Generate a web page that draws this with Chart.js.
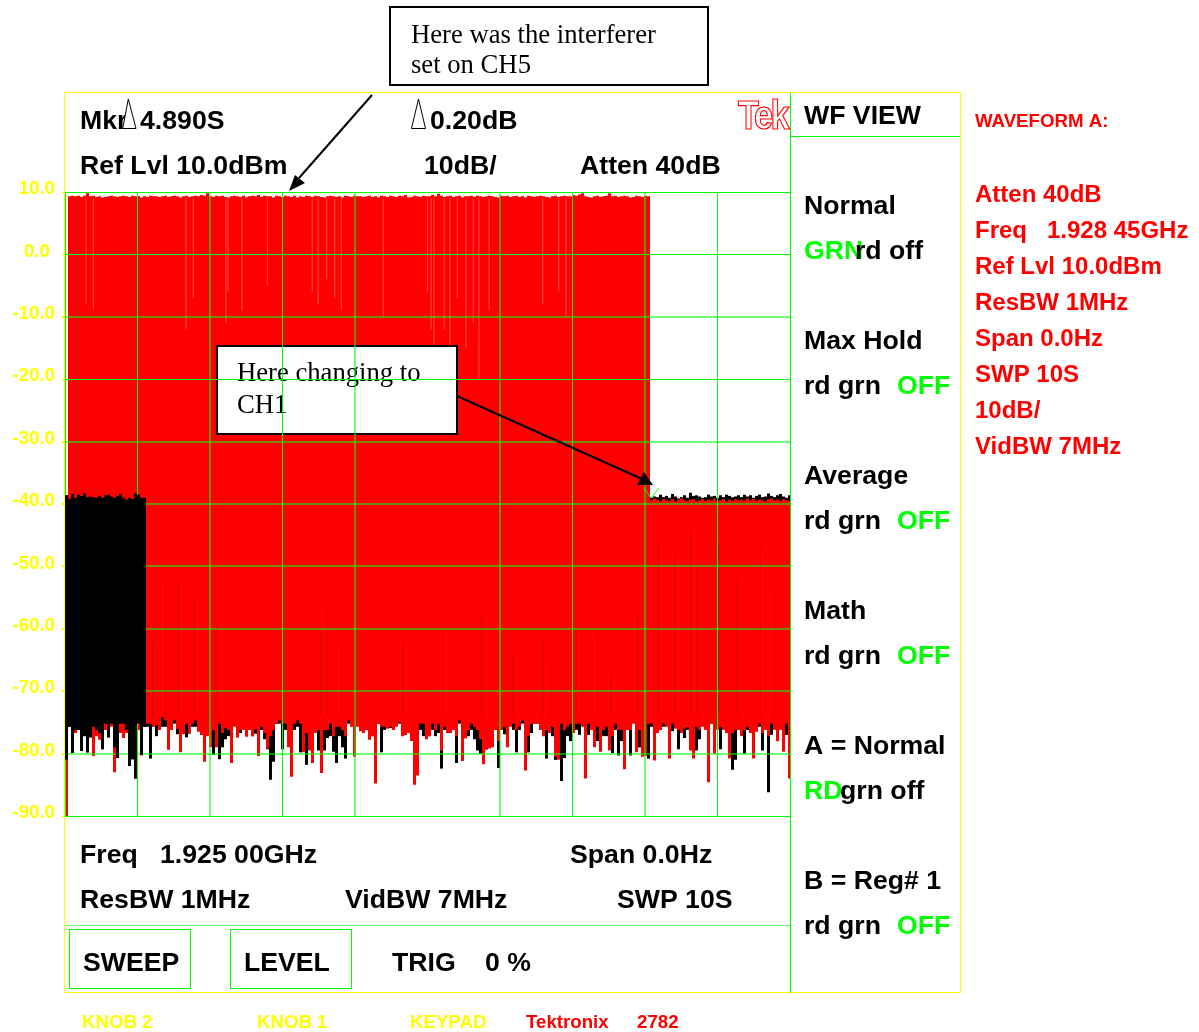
<!DOCTYPE html>
<html><head><meta charset="utf-8"><style>html,body{margin:0;padding:0;background:#fff}canvas{display:block}</style>
<script src="https://cdn.jsdelivr.net/npm/chart.js@4/dist/chart.umd.min.js"></script></head>
<body><canvas id="c" width="1199" height="1032"></canvas>
<script>
// Trace columns, one per small slice of the 10 s sweep (values in dBm)
const redLow=[-90,-75.5,-76,-77.5,-76,-76.5,-76.5,-77,-76.5,-80.4,
-78,-78.6,-77,-77,-76,-76.5,-83,-77.5,-77.5,-78.3,
-77.5,-76,-76.5,-76.5,-77,-80.3,-75,-76,-76,-76.5,
-76.2,-77,-75,-75.5,-79.4,-77,-75.5,-76.8,-79.8,-77.7,
-76,-77.5,-76,-75.5,-77.3,-77.8,-81.3,-78,-79,-77,
-79,-76,-77.5,-76.7,-77,-81.5,-76.5,-78.2,-77,-77,
-78.1,-77,-78,-76.9,-80.4,-76.5,-77.5,-79.2,-78,-77,
-76,-75.5,-76,-76,-79,-83.7,-76,-75.5,-76,-79.8,
-77.5,-79.5,-81.5,-77.5,-77,-83.1,-77,-77,-76,-78,
-76.5,-76.5,-77,-78,-75.5,-76.5,-80.5,-76.5,-77.2,-77.5,
-77,-78.6,-78,-84.8,-76,-76.5,-76.5,-76.8,-76.5,-77,
-76.5,-75.8,-78,-77.8,-77.5,-78.8,-85,-83.5,-76,-76,
-78.5,-78,-76,-77,-76,-79.5,-76.5,-77.5,-77.5,-77,
-78,-75.5,-81.2,-78.4,-77,-76,-76.5,-77,-78.5,-81.7,
-79.4,-79.2,-79,-77,-78.8,-77,-76.5,-79,-76.5,-76,
-77,-76.5,-75.5,-82.7,-78,-76,-76,-76,-77,-78,
-77,-77.5,-76.5,-80.5,-81,-76,-77,-76.5,-76,-77.5,
-76,-76,-76.5,-84,-76,-77,-79,-76.5,-79.7,-77,
-76.5,-79.5,-78,-76,-77,-77,-82.5,-77,-77,-76,
-79.8,-77,-80.5,-80.4,-76,-76,-81.1,-77.5,-77,-76,
-76.5,-80.8,-76,-76.8,-77,-77.5,-76.8,-76.6,-79.5,-80.8,
-76.5,-77,-76.5,-77,-84.6,-76,-80,-77,-76.5,-77,
-77.5,-80.8,-77.5,-77,-77,-78,-77,-76.5,-77.5,-80.8,
-77.3,-76,-77.5,-77,-78,-76,-77,-78.8,-77,-79.7,
-76,-84];
const blackLow=[-81,-76.5,-79.9,-77,-77,-79.6,-78,-79.8,-78.2,-76.5,
-77,-77.5,-79.3,-76,-78.2,-76,-79,-80.7,-76,-76,
-77,-82,-80.9,-84,-76,-80.2,-76.5,-76.5,-80.8,-76.5,
-78,-77,-76.5,-76.5,-79.3,-76,-76,-77.7,-77,-77,
-78.2,-77.6,-76.5,-76.5,-77,-77.5,-80.5,-77,-77,-80.2,
-78,-80.9,-79,-78.5,-78,-81.5,-76,-76.7,-77.5,-77,
-76.7,-77,-78,-77.6,-77.5,-77,-78.5,-79.3,-84.2,-81.3,
-76,-76,-79.3,-77,-78,-78,-77,-76.5,-79.8,-77,
-81.8,-76.8,-77,-77,-79.5,-79,-79.5,-78.3,-78,-79.7,
-81.5,-78,-79,-80.8,-76,-76,-80,-75.5,-76.5,-76.7,
-77,-78.5,-78,-77.5,-76,-79.8,-77,-76.5,-76.7,-76.5,
-76,-76,-77.8,-76.5,-77.5,-78.5,-79,-77,-77,-78,
-77,-78,-77,-78,-77.5,-82.4,-77,-76.5,-77,-77,
-81.5,-76,-77,-76,-78,-77,-78.5,-79.5,-80,-81.5,
-76.5,-77,-76,-77,-82.3,-76.5,-77.7,-77,-76,-77,
-79.8,-77,-76,-78,-79.8,-77.5,-76,-76,-76.5,-77,
-80.8,-77.5,-78,-81,-77,-84.4,-80.7,-78,-78.8,-76.5,
-77,-77.8,-76,-78,-77.8,-76.5,-76,-78.8,-77,-78,
-78,-77,-79.9,-77,-80.3,-78.8,-77,-77,-80.3,-75,
-77.5,-79,-76.5,-78,-80.8,-76.5,-77,-76.5,-77,-76.5,
-76,-77,-77.2,-76,-79.3,-76.5,-78.3,-77,-77,-78,
-79.5,-78.5,-76,-76.5,-77,-76,-77,-76.7,-79.3,-76.5,
-77,-77,-82.6,-81,-77,-76.5,-80,-77,-76.5,-77,
-76,-76.5,-79.5,-76.5,-86.2,-77.8,-76.5,-77,-76.5,-76.5,
-77.8,-77];
const redTop=[-76,
9.3,9.4,9.3,9.4,9.2,9.4,9.8,9.3,9.4,9.2,
9.3,9.1,9.2,9.3,9.4,9.3,9.2,9.3,9.4,9.3,
9.2,9.4,9.3,9.3,9.1,9.3,9.2,9.4,9.3,9.3,
9.2,9.3,9.4,9.2,9.3,9.4,9.3,9.1,9.3,9.4,
9.2,9.3,9.4,9.3,9.5,9.4,9.8,9.3,9.2,9.4,
9.3,9.4,9.2,9.1,9.3,9.4,9.3,9.2,9.4,9.1,
9.3,9.4,9.3,9.5,9.2,9.4,9.3,9.3,9.1,9.4,
9.3,9.2,9.4,9.3,9.2,9.4,9.1,9.3,9.2,9.4,
9.3,9.2,9.4,9.3,9.2,9.1,9.3,9.4,9.3,9.2,
9.3,9.1,9.4,9.3,9.2,9.4,9.3,9.3,9.2,9.3,
9.4,9.2,9.3,9.1,9.4,9.3,9.2,9.4,9.3,9.2,
9.4,9.3,9.5,9.1,9.2,9.4,9.3,9.2,9.4,9.3,
9.3,9.5,9.3,9.7,9.4,9.2,9.3,9.4,9.2,9.3,
9.4,9.1,9.3,9.3,9.4,9.2,9.4,9.3,9.2,9.3,
9.4,9.3,9.2,9.1,9.4,9.3,9.4,9.2,9.3,9.4,
9.2,9.3,9.1,9.4,9.3,9.2,9.3,9.4,9.3,9.2,
9.1,9.3,9.4,9.2,9.3,9.4,9.3,9.3,9.5,9.4,
9.6,9.8,9.3,9.2,9.1,9.3,9.4,9.2,9.3,9.4,
9.8,9.3,9.4,9.2,9.3,9.4,9.3,9.1,9.2,9.4,
9.3,9.2,9.4,9.3,
-39.4,-39.1,-39.3,-39.6,-39.2,-39.4,-39.5,-39.2,-39.6,-39.3,
-39.1,-39.4,-39.5,-39.3,-39.2,-39.6,-39.4,-39.2,-39.5,-39.3,
-39.4,-39.1,-39.5,-39.4,-39.2,-39.6,-39.3,-39.5,-39.2,-39.4,
-39.3,-39.5,-39.1,-39.4,-39.2,-39.5,-39.3,-39.4,-39.6,-39.2,
-39.1,-39.4,-39.3,-39.5,-39.2,-39.4,-39.5];
const blackBlockTop=[-38.6,-39.2,-38.4,-39,-38.5,-38.7,-38.3,-38.9,-38.8,-38.9,-39,-38.7,-39,-38.6,-38.5,-38.8,-39,-38.7,-38.4,-39,-39.3,-39,-39.2,-38.3,-38.5,-39,-39];
const blackHiddenTop=-70;
const blackRightTop=[-39,-38.8,-38.9,-38.5,-38.9,-38.7,-39,-38.4,-38.8,-39.1,-38.9,-38.6,-39,-38.2,-38.7,-38.6,-38.8,-39,-38.9,-38.5,-38.8,-38.7,-39,-38.6,-38.9,-38.5,-38.7,-38.9,-38.8,-38.6,-38.9,-38.5,-38.8,-38.6,-39,-38.7,-38.5,-38.9,-38.8,-38.3,-38.7,-38.9,-38.6,-38.4,-38.8,-39,-38.6];
// Thin dropouts inside the red trace: time (s) and the level they reach (dB)
const paleDropTime=[0.29,0.39,1.67,1.77,2.22,2.25,2.44,2.79,3.41,3.49,3.61,3.72,3.81,4.39,5.0,5.05,5.09,5.23,5.31,5.41,5.53,5.63,5.71,5.85,6.59,6.81,6.91];
const paleDropLevel=[-8,-9,-12,-7,-11,-6,-9,-5,-6,-8,-4,-7,-9,-10,-6,-12,-16,-12,-18,-7,-15,-11,-20,-9,-8,-6,-10];
const darkDropTime=[1.21,1.39,1.56,1.78,2.10,3.52,3.61,3.82,4.66,5.21,5.75,6.18,6.59,6.70,7.13,7.35,7.53,7.90,8.18,8.41,8.63,8.72,9.02,9.27,9.59,9.79];
const darkDropLevel=[-62,-52,-53,-55,-59,-60,-57,-63,-62,-60,-58,-64,-62,-66,-60,-61,-67,-58,-46,-48,-44,-50,-46,-52,-47,-54];
const gridMissing=5;
const yTickValues=[10,0,-10,-20,-30,-40,-50,-60,-70,-80,-90];
const softYLines=[-10,-30,-40,-50,-60,-70,-80];
const softXLines=[2,4,6,8];
// The noise floor was read about 0.8 dB low against the -80 line; spikes below -79 are unaffected
const floorReadingFix=0.8, floorLimit=-79;

const SECONDS_PER_COLUMN=3/72.5;
const colX=i=>(i+0.5)*SECONDS_PER_COLUMN;
const fixFloor=v=>v>floorLimit?v+floorReadingFix:v;
const redData=redLow.map((v,i)=>({x:colX(i),y:[fixFloor(v),redTop[i]]}));
const blackTop=[...blackBlockTop,...redLow.slice(27,195).map(()=>blackHiddenTop),...blackRightTop];
const blackData=blackLow.map((v,i)=>({x:colX(i),y:[fixFloor(v),blackTop[i]]}));
const paleData=paleDropTime.map((t,i)=>({x:t,y:[paleDropLevel[i],9]}));
const darkData=darkDropTime.map((t,i)=>({x:t,y:[-74,darkDropLevel[i]]}));

const SANS='"Liberation Sans",Arial,sans-serif', SERIF='"Liberation Serif","Times New Roman",serif';
const BIG=`bold 26.67px ${SANS}`, MID=`bold 24px ${SANS}`, SMALL=`bold 18.67px ${SANS}`;
const K='#000000',G='#00ff00',Y='#ffff00',R='#ff0000';
const panelTexts=[
['Mkr',80,129,BIG,K],['4.890S',140,129,BIG,K],['0.20dB',430,129,BIG,K],
['Ref Lvl 10.0dBm',80,174,BIG,K],['10dB/',424,174,BIG,K],['Atten 40dB',580,174,BIG,K],
['WF VIEW',804,124,BIG,K],
['Normal',804,214,BIG,K],['GRN',804,259,BIG,G],['rd off',855,259,BIG,K],
['Max Hold',804,349,BIG,K],['rd grn',804,394,BIG,K],['OFF',897,394,BIG,G],
['Average',804,484,BIG,K],['rd grn',804,529,BIG,K],['OFF',897,529,BIG,G],
['Math',804,619,BIG,K],['rd grn',804,664,BIG,K],['OFF',897,664,BIG,G],
['A = Normal',804,754,BIG,K],['RD',804,799,BIG,G],['grn off',840,799,BIG,K],
['B = Reg# 1',804,889,BIG,K],['rd grn',804,934,BIG,K],['OFF',897,934,BIG,G],
['Freq',80,863,BIG,K],['1.925 00GHz',160,863,BIG,K],['Span 0.0Hz',570,863,BIG,K],
['ResBW 1MHz',80,908,BIG,K],['VidBW 7MHz',345,908,BIG,K],['SWP 10S',617,908,BIG,K],
['SWEEP',83,971,BIG,K],['LEVEL',244,971,BIG,K],['TRIG',392,971,BIG,K],['0 %',485,971,BIG,K],
['KNOB 2',82,1028,SMALL,Y],['KNOB 1',257,1028,SMALL,Y],['KEYPAD',410,1028,SMALL,Y],['Tektronix',526,1028,SMALL,R],['2782',637,1028,SMALL,R],
['WAVEFORM A:',975,127,SMALL,R],['Atten 40dB',975,202,MID,R],['Freq',975,238,MID,R],['1.928 45GHz',1047,238,MID,R],
['Ref Lvl 10.0dBm',975,274,MID,R],['ResBW 1MHz',975,310,MID,R],['Span 0.0Hz',975,346,MID,R],['SWP 10S',975,382,MID,R],['10dB/',975,418,MID,R],['VidBW 7MHz',975,454,MID,R]
];

function line(ctx,x1,y1,x2,y2,color,w){ctx.strokeStyle=color;ctx.lineWidth=w||1;ctx.beginPath();ctx.moveTo(x1,y1);ctx.lineTo(x2,y2);ctx.stroke();}
function txt(ctx,t,x,y,font,color){ctx.font=font;ctx.fillStyle=color;ctx.textAlign='left';ctx.textBaseline='alphabetic';ctx.fillText(t,x,y);}
function poly(ctx,pts,fill,stroke){ctx.beginPath();pts.forEach((p,i)=>i?ctx.lineTo(p[0],p[1]):ctx.moveTo(p[0],p[1]));ctx.closePath();if(fill){ctx.fillStyle=fill;ctx.fill();}if(stroke){ctx.strokeStyle=stroke;ctx.lineWidth=1;ctx.stroke();}}

const overlay={id:'overlay',
 afterDatasetsDraw(chart){ // this box sits under the grid in the reference
  const c=chart.ctx;c.save();
  c.fillStyle='#fff';c.fillRect(217,346,240,88);
  c.strokeStyle='#000';c.lineWidth=2;c.strokeRect(217,346,240,88);
  txt(c,'Here changing to',237,381,`26.67px ${SERIF}`,'#000');
  txt(c,'CH1',237,413,`26.67px ${SERIF}`,'#000');
  c.restore();
 },
 afterDraw(chart){
  const c=chart.ctx,a=chart.chartArea;
  // black trace of the first columns lies over the grid
  c.save();c.beginPath();c.rect(a.left,a.top,a.right-a.left,a.bottom-a.top);c.clip();
  chart.getDatasetMeta(3).data.slice(0,blackBlockTop.length).forEach(e=>e.draw(c));
  c.restore();
  c.save();
  // panel frame
  c.strokeStyle=Y;c.lineWidth=1;c.strokeRect(64.5,92.5,896,900);
  line(c,790.5,93,790.5,993,G);line(c,790,136.5,960,136.5,G);
  line(c,65,925.5,790,925.5,'rgba(0,255,0,.6)',1);
  c.strokeStyle=G;c.lineWidth=1;c.strokeRect(69.5,929.5,121,59);c.strokeRect(230.5,929.5,121,59);
  // top callout
  c.fillStyle='#fff';c.fillRect(390,7,318,78);c.strokeStyle='#000';c.lineWidth=2;c.strokeRect(390,7,318,78);
  txt(c,'Here was the interferer',411,43,`26.67px ${SERIF}`,'#000');
  txt(c,'set on CH5',411,73,`26.67px ${SERIF}`,'#000');
  // arrows
  line(c,372,95,299,178,'#000',2);
  poly(c,[[289,191],[295,175],[305,183]],'#000');
  line(c,457,396,642,479,'#000',2);
  poly(c,[[653,485],[644,472],[637,485]],'#000');
  // marker check
  c.strokeStyle=G;c.lineWidth=1;c.beginPath();c.moveTo(644,488);c.lineTo(651,498);c.lineTo(659,488);c.stroke();
  panelTexts.forEach(t=>txt(c,t[0],t[1],t[2],t[3],t[4]));
  // delta triangles
  poly(c,[[128.3,99],[122.7,128.5],[136,128.5]],'#fff','#000');
  poly(c,[[418.5,99],[411.5,128.5],[425.5,128.5]],'#fff','#000');
  // Tek logo
  c.save();c.translate(738,129);c.scale(.86,1);c.font=`bold 40px ${SANS}`;c.letterSpacing='-3px';c.textAlign='left';c.textBaseline='alphabetic';
  c.strokeStyle=R;c.lineWidth=1.2;c.strokeText('Tek',0,0);c.restore();
  c.restore();
 }};

new Chart(document.getElementById('c'),{type:'bar',
 data:{datasets:[
  {label:'dropouts light',data:paleData,backgroundColor:'rgba(255,255,255,.3)',barThickness:1,inflateAmount:0,grouped:false},
  {label:'dropouts dark',data:darkData,backgroundColor:'rgba(110,0,0,.3)',barThickness:1,inflateAmount:0,grouped:false},
  {label:'Waveform A',data:redData,backgroundColor:R,barThickness:3,inflateAmount:0,grouped:false},
  {label:'Waveform B',data:blackData,backgroundColor:'#000',barThickness:3,inflateAmount:0,grouped:false}
 ]},
 plugins:[overlay],
 options:{responsive:false,animation:false,devicePixelRatio:1,
  layout:{padding:{left:0,top:192,right:409,bottom:216}},
  plugins:{legend:{display:false},tooltip:{enabled:false},title:{display:false}},
  datasets:{bar:{categoryPercentage:1,barPercentage:1}},
  scales:{
   x:{type:'linear',min:0,max:10,offset:false,afterFit(s){s.height=0;},
    ticks:{display:false,stepSize:1},border:{display:false},
    grid:{z:1,drawTicks:false,offset:false,
     color:c=>c.tick&&c.tick.value===gridMissing?'rgba(0,0,0,0)':(softXLines.includes(c.tick&&c.tick.value)?'rgba(0,255,0,.55)':G),
     lineWidth:c=>c.tick&&softXLines.includes(c.tick.value)?2:1}},
   y:{type:'linear',min:-90,max:10,afterFit(s){s.width=65;},
    afterBuildTicks(s){s.ticks=yTickValues.map(v=>({value:v}));},
    ticks:{color:Y,font:{family:SANS,size:18.67,weight:'bold'},padding:7,labelOffset:-3,crossAlign:'near',callback:v=>v===0?'0.0\u00a0':v.toFixed(1)},
    border:{display:false},
    grid:{z:1,tickLength:3,tickColor:Y,
     color:c=>softYLines.includes(c.tick&&c.tick.value)?'rgba(0,255,0,.55)':G,
     lineWidth:c=>c.tick&&softYLines.includes(c.tick.value)?2:1}}
  }}});
</script></body></html>
